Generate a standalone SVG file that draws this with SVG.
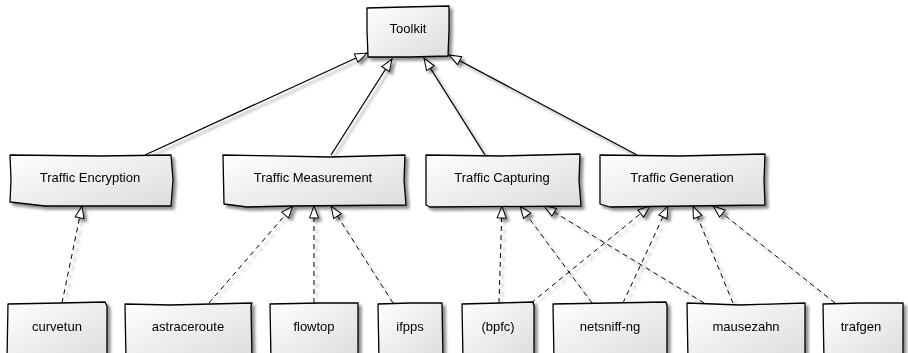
<svg xmlns="http://www.w3.org/2000/svg" width="908" height="353" viewBox="0 0 908 353">
<defs>
<linearGradient id="g" x1="0" y1="0" x2="1" y2="1">
<stop offset="0" stop-color="#ffffff"/>
<stop offset="1" stop-color="#dcdcdc"/>
</linearGradient>
<filter id="sh" x="-20%" y="-20%" width="140%" height="150%">
<feGaussianBlur in="SourceAlpha" stdDeviation="1.6"/>
<feOffset dx="3" dy="3" result="b"/>
<feComponentTransfer><feFuncA type="linear" slope="0.45"/></feComponentTransfer>
<feMerge><feMergeNode/><feMergeNode in="SourceGraphic"/></feMerge>
</filter>
<marker id="tri" viewBox="0 0 14 12" refX="13" refY="6" markerWidth="14" markerHeight="12" markerUnits="userSpaceOnUse" orient="auto">
<path d="M1,1.5 L13,6 L1,10.5 Z" fill="#fff" stroke="#000" stroke-width="1"/>
</marker>
</defs>
<style>
.box{fill:url(#g);stroke:#000;stroke-width:1.3;stroke-linejoin:round}
.t{font-family:"Liberation Sans",Arial,sans-serif;font-size:13px;fill:#000;text-anchor:middle}
.s{fill:none;stroke:#000;stroke-width:1.3;marker-end:url(#tri)}
.d{fill:none;stroke:#000;stroke-width:1;stroke-dasharray:5,4;marker-end:url(#tri)}
</style>
<rect width="908" height="353" fill="#fff"/>
<g id="connectors" filter="url(#sh)">
<line class="s" x1="145" y1="155" x2="367" y2="53"/>
<line class="s" x1="331" y1="155" x2="392" y2="59"/>
<line class="s" x1="485" y1="155" x2="424" y2="58"/>
<line class="s" x1="637" y1="155" x2="449" y2="55"/>
<line class="d" x1="62" y1="303" x2="82" y2="206"/>
<line class="d" x1="209" y1="303" x2="293" y2="206"/>
<line class="d" x1="314" y1="303" x2="314" y2="206"/>
<line class="d" x1="393" y1="303" x2="331" y2="206"/>
<line class="d" x1="499" y1="303" x2="502" y2="206"/>
<line class="d" x1="592" y1="303" x2="520" y2="206"/>
<line class="d" x1="704" y1="303" x2="544" y2="206"/>
<line class="d" x1="531" y1="303" x2="650" y2="206"/>
<line class="d" x1="623" y1="303" x2="668" y2="206"/>
<line class="d" x1="733" y1="303" x2="693" y2="206"/>
<line class="d" x1="835" y1="303" x2="713" y2="206"/>
</g>
<g id="toolkit" filter="url(#sh)">
<path class="box" d="M367,8 L405,7 L449,6 L449,30 L448,56 L410,57 L368,57 L367,30 Z"/>
<text class="t" x="408" y="33">Toolkit</text>
</g>
<g id="encryption" filter="url(#sh)">
<path class="box" d="M10,155 L100,156 L171,155 L173,180 L171,206 L45,206 L10,202 L11,180 Z"/>
<text class="t" x="90" y="182">Traffic Encryption</text>
</g>
<g id="measurement" filter="url(#sh)">
<path class="box" d="M223,155 L330,157 L405,155 L404,180 L406,205 L290,206 L247,207 L224,204 Z"/>
<text class="t" x="313" y="182">Traffic Measurement</text>
</g>
<g id="capturing" filter="url(#sh)">
<path class="box" d="M426,155 L500,156 L580,154 L579,180 L581,206 L430,207 L426,205 Z"/>
<text class="t" x="502" y="182">Traffic Capturing</text>
</g>
<g id="generation" filter="url(#sh)">
<path class="box" d="M600,155 L680,156 L765,154 L764,180 L765,205 L610,207 L600,204 Z"/>
<text class="t" x="682" y="182">Traffic Generation</text>
</g>
<g id="curvetun" filter="url(#sh)">
<path class="box" d="M8,304 L60,303 L105,302 L107,306 L107,360 L7,360 Z"/>
<text class="t" x="57" y="331">curvetun</text>
</g>
<g id="astraceroute" filter="url(#sh)">
<path class="box" d="M125,304 L170,305 L252,303 L251,306 L252,360 L126,360 Z"/>
<text class="t" x="188" y="331">astraceroute</text>
</g>
<g id="flowtop" filter="url(#sh)">
<path class="box" d="M270,304 L320,303 L358,303 L358,360 L271,360 Z"/>
<text class="t" x="314" y="331">flowtop</text>
</g>
<g id="ifpps" filter="url(#sh)">
<path class="box" d="M378,304 L410,303 L442,303 L443,360 L379,360 Z"/>
<text class="t" x="410" y="331">ifpps</text>
</g>
<g id="bpfc" filter="url(#sh)">
<path class="box" d="M462,304 L500,303 L533,302 L534,306 L534,360 L463,360 Z"/>
<text class="t" x="498" y="331">(bpfc)</text>
</g>
<g id="netsniff" filter="url(#sh)">
<path class="box" d="M553,304 L610,303 L666,302 L667,306 L667,360 L554,360 Z"/>
<text class="t" x="610" y="331">netsniff-ng</text>
</g>
<g id="mausezahn" filter="url(#sh)">
<path class="box" d="M687,303 L740,305 L805,303 L805,360 L688,360 Z"/>
<text class="t" x="746" y="331">mausezahn</text>
</g>
<g id="trafgen" filter="url(#sh)">
<path class="box" d="M823,304 L860,303 L903,303 L903,360 L824,360 Z"/>
<text class="t" x="861" y="331">trafgen</text>
</g>
</svg>
